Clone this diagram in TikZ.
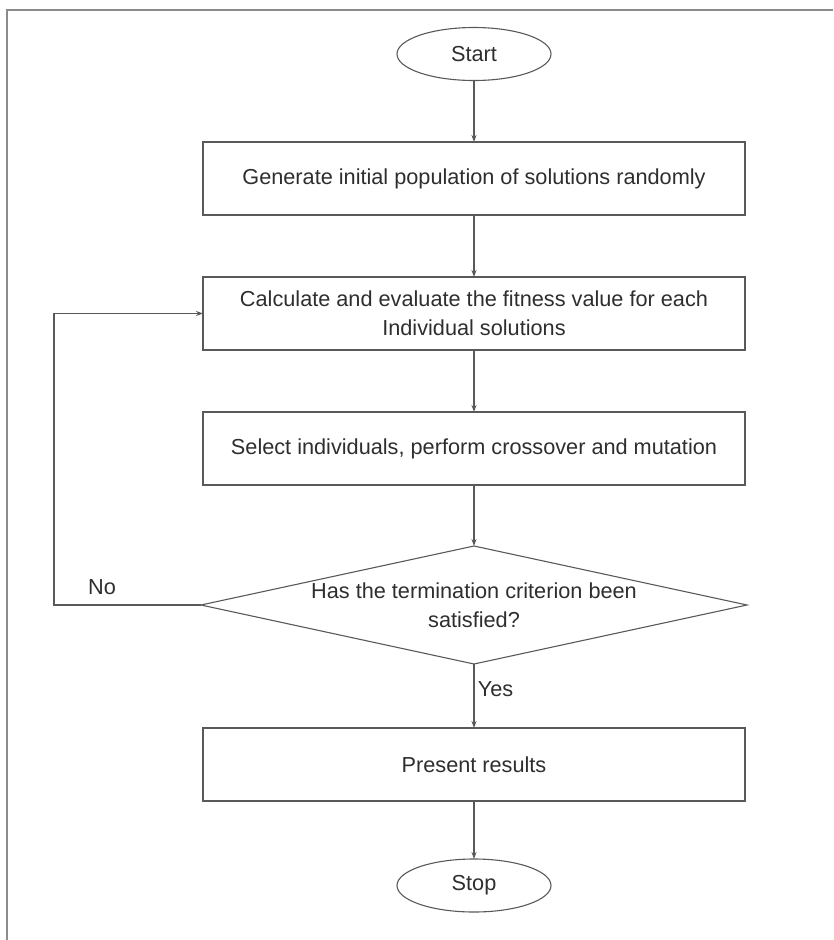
\documentclass[tikz,border=0pt]{standalone}
\usepackage{fontspec}
\setmainfont{Liberation Sans}
\usepackage{tikz}
\usetikzlibrary{arrows.meta, positioning, shapes.geometric}
\definecolor{framegray}{HTML}{8C8C8C}
\definecolor{linegray}{HTML}{595959}
\definecolor{textgray}{HTML}{2E2E2E}
\tikzset{
    base/.style={draw=linegray, line width=1.1pt, outer sep=0pt, text=textgray, align=center, font=\fontsize{21.7}{29}\selectfont},
    terminal/.style={base, ellipse, minimum width=154pt, minimum height=53pt, inner sep=0pt},
    process/.style={base, rectangle, minimum width=542pt, minimum height=73pt},
    decision/.style={base, diamond, minimum width=546pt, minimum height=118pt, inner sep=0pt, aspect=4.6},
    lbl/.style={text=textgray, font=\fontsize{21.7}{29}\selectfont},
    arrow/.style={-{Stealth[length=7pt, width=5pt]}, line width=1.1pt, draw=linegray}
}

\begin{document}
\begin{tikzpicture}[x=1pt, y=-1pt, node distance=62pt]
        \useasboundingbox (0,0) rectangle (833,940);
        \draw[framegray, line width=1.5pt] (7,940) -- (7,10) -- (833,10);
        \node[terminal] (start) at (474,54) {Start};
        \node[process, below=61.5pt of start] (init) {Generate initial population of solutions randomly};
        \node[process, below=of init] (eval) {Calculate and evaluate the fitness value for each\\Individual solutions};
        \node[process, below=of eval] (select) {Select individuals, perform crossover and mutation};
        \node[decision, below=61pt of select, label={[lbl, align=center]center:Has the termination criterion been\\satisfied?}] (check) {};
        \node[process, below=64pt of check] (result) {Present results};
        \node[terminal, below=58pt of result] (stop) {Stop};
        \draw[arrow] (start) -- (init);
        \draw[arrow] (init) -- (eval);
        \draw[arrow] (eval) -- (select);
        \draw[arrow] (select) -- (check);
        \draw[arrow] (check) -- node[lbl, right, pos=0.4] (yes) {Yes} (result);
        \draw[arrow] (result) -- (stop);
        \draw[arrow] (check.west) -- ++(-147,0) |- (eval.west);
        \node[lbl] (no) at (102,587) {No};
\end{tikzpicture}
\end{document}
